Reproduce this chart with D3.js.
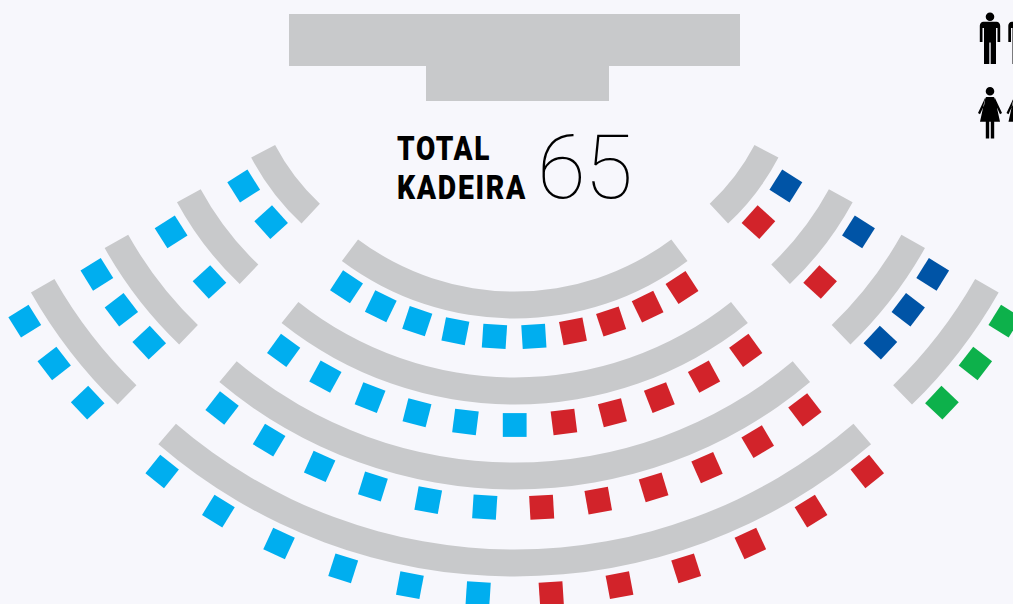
<!DOCTYPE html>
<html>
<head>
<meta charset="utf-8">
<script src="https://cdn.jsdelivr.net/npm/d3@7"></script>
<style>
html,body{margin:0;padding:0;background:#f7f7fc;overflow:hidden}
svg{display:block}
text{font-family:Roboto,sans-serif}
</style>
</head>
<body>
<div id="chart"></div>
<script>
// seats, one letter per seat
// c = light blue, r = red, d = dark blue, g = green
var mainRows=['ccccccrrrr','ccccccrrrrr','ccccccrrrrrr','ccccccrrrrrr']
var leftCols=['c.c','c.c','ccc','ccc']
var rightCols=['d.r','d.r','ddd','ggg']
var totalLabel=['TOTAL','KADEIRA']
var totalSeats=65

var W=1013,H=604
var colors={c:'#00aeef',r:'#d2232a',d:'#0054a6',g:'#0db14b'}
var barColor='#c8c9cb'

var svg=d3.select('#chart').append('svg').attr('width',W).attr('height',H)

// podium
svg.append('rect').attr('x',289).attr('y',14).attr('width',451).attr('height',52).attr('fill',barColor)
svg.append('rect').attr('x',426).attr('y',66).attr('width',183).attr('height',35).attr('fill',barColor)

var seatSize=23.8
var rad=d=>d*Math.PI/180
var arc=d3.arc()

// main block, bars and seats share one centre
var main=svg.append('g').attr('transform','translate(514.7,30)')
var mainSeatRadius=[307,395,478,565]
var mainBarRadius=[275,361,446,533]
var mainBarAngle=[36.8,38.5,40,40.7]
var mainSeatStep=[7.36,7.16,6.83,6.98]
var mainShift=[.1,0,.18,0]
var mainAisle=[0,0,0,.22]

mainRows.forEach(function(row,i){
    main.append('path')
        .attr('d',arc({innerRadius:mainBarRadius[i]-13.5,outerRadius:mainBarRadius[i]+13.5,
            startAngle:rad(180-mainBarAngle[i]),endAngle:rad(180+mainBarAngle[i])}))
        .attr('fill',barColor)
    var half=(row.length-1)/2
    // left end of the row is seat 0
    var angle=d3.scaleLinear().domain([0,row.length-1]).range([half*mainSeatStep[i],-half*mainSeatStep[i]])
    row.split('').forEach(function(p,j){
        var a=angle(j)+mainShift[i]+Math.sign(half-j)*mainAisle[i]
        main.append('rect')
            .attr('x',-seatSize/2).attr('y',-seatSize/2)
            .attr('width',seatSize).attr('height',seatSize)
            .attr('fill',colors[p])
            .attr('transform',`rotate(${a}) translate(0,${mainSeatRadius[i]})`)
    })
})

// side wings, right one is the mirror of the left
var wingSeatRadius=[265.7,351.6,437,523]
var wingBarRadius=[231.5,318,403.5,489.5]
var wingBarFrom=[42.9,43.6,43.9,44.2]
var wingBarTo=[62.4,61.5,60.7,60.4]
var wingSeatFrom=[57.7,57.7,58.2,58]
var wingSeatTo=[47.9,47.4,46.9,46.7]

function drawWing(cols,cx,sign){
    var g=svg.append('g').attr('transform',`translate(${cx},44)`)
    cols.forEach(function(col,i){
        g.append('path')
            .attr('d',arc({innerRadius:wingBarRadius[i]-13.5,outerRadius:wingBarRadius[i]+13.5,
                startAngle:rad(180+sign*wingBarFrom[i]),endAngle:rad(180+sign*wingBarTo[i])}))
            .attr('fill',barColor)
        var angle=d3.scaleLinear().domain([0,2]).range([wingSeatFrom[i],wingSeatTo[i]])
        col.split('').forEach(function(p,j){
            if(p=='.') return
            g.append('rect')
                .attr('x',-seatSize/2).attr('y',-seatSize/2)
                .attr('width',seatSize).attr('height',seatSize)
                .attr('fill',colors[p])
                .attr('transform',`rotate(${sign*angle(j)}) translate(0,${wingSeatRadius[i]})`)
        })
    })
}
drawWing(leftCols,468.3,1)
drawWing(rightCols,561.3,-1)

// label
var labelY=[160,199],labelW=[94,130]
totalLabel.forEach(function(t,i){
    svg.append('text').attr('x',397).attr('y',labelY[i])
        .attr('font-size',33.5).attr('font-weight',900).attr('fill','#000')
        .attr('letter-spacing',2)
        .attr('textLength',labelW[i]).attr('lengthAdjust','spacingAndGlyphs')
        .text(t)
})
svg.append('text').attr('x',537).attr('y',198)
    .attr('font-size',89).attr('font-weight',100).attr('fill','#000')
    .attr('textLength',96)
    .text(totalSeats)

// people icons, cut off by the window edge like the original
var man='M0 0a4.3 4.3 0 1 1 0 8.6a4.3 4.3 0 1 1 0-8.6z'+
    'M-6.5 9.3H6.5c2.2 0 3.7 1.8 3.7 4V29.5H7.5V15.5H6V51.5H.7V30H-.7V51.5H-6V15.5H-7.5V29.5H-10.2V13.3C-10.2 11.1-8.7 9.3-6.5 9.3z'
var woman='M0 0a4.3 4.3 0 1 1 0 8.6a4.3 4.3 0 1 1 0-8.6z'+
    'M-3.8 10H3.8L5.5 14 10 34.7H4.2V51.5H.8V34.7H-.8V51.5H-4.2V34.7H-10L-5.5 14z'+
    'M4.5 10L12 26 10 27.2 5.8 18z'+
    'M-4.5 10L-12 26-10 27.2-5.8 18z'
var iconX=[990,1018.5]
iconX.forEach(function(x){
    svg.append('path').attr('d',man).attr('transform',`translate(${x},12.5)`).attr('fill','#000')
    svg.append('path').attr('d',woman).attr('transform',`translate(${x},87)`).attr('fill','#000')
})
</script>
</body>
</html>
